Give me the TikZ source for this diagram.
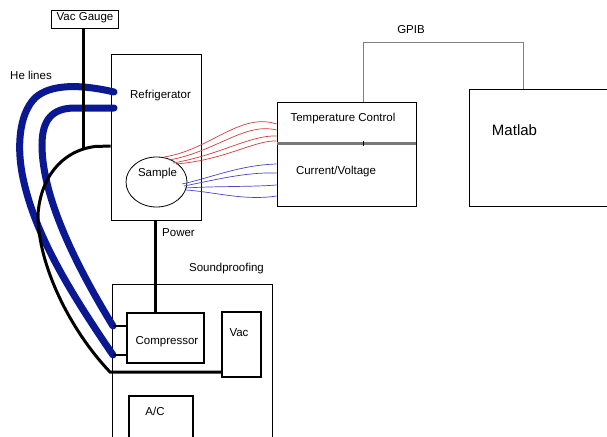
\documentclass[tikz,border=0pt]{standalone}
\usepackage{fontspec}
\setmainfont{Liberation Sans}
\usetikzlibrary{shapes.geometric,calc}
\definecolor{heblue}{RGB}{10,25,145}
\definecolor{wred}{RGB}{210,60,60}
\definecolor{wblue}{RGB}{70,70,200}
\definecolor{divgray}{RGB}{120,120,120}
\tikzset{
  lbl/.style={font=\fontsize{11.5}{13}\selectfont, inner sep=0pt},
  thinbox/.style={draw=black, line width=0.8pt, inner sep=0pt},
  thickbox/.style={draw=black, line width=2pt, inner sep=0pt},
  heline/.style={draw=heblue, line width=7pt, line cap=round},
  blackline/.style={draw=black, line width=3pt},
  stub/.style={draw=black, line width=2pt},
  redwire/.style={draw=wred, line width=0.7pt},
  bluewire/.style={draw=wblue, line width=0.7pt},
  gpib/.style={draw=gray, line width=0.9pt}
}
\begin{document}
\begin{tikzpicture}[x=1pt,y=-1pt]
\useasboundingbox (0,0) rectangle (607,436);
\clip (0,0) rectangle (607,436);
\fill[white] (0,0) rectangle (607,436);

% boxes
\node[thinbox, minimum width=67pt, minimum height=18pt] (vg) at (84.5,19) {};
\node[thinbox, minimum width=90pt, minimum height=166pt] (fr) at (156,137) {};
\node[thinbox, ellipse, minimum width=61pt, minimum height=50pt] (smp) at (156.5,182) {};
\node[thinbox, minimum width=139pt, minimum height=41pt] (tc) at (346.5,122.5) {};
\node[thinbox, minimum width=139pt, minimum height=63pt] (cv) at (346.5,174.5) {};
\node[thinbox, minimum width=151pt, minimum height=117pt] (ml) at (544.5,147.5) {};
\node[thinbox, minimum width=160pt, minimum height=166pt] (sp) at (192,367) {};
\node[thickbox, minimum width=77pt, minimum height=50pt] (comp) at (165.5,338) {};
\node[thickbox, minimum width=39pt, minimum height=65pt] (vac) at (241.5,344.5) {};
\node[thickbox, minimum width=64pt, minimum height=54pt] (ac) at (161,423) {};

% divider between temperature control and current/voltage
\draw[draw=divgray, line width=2.5pt] (tc.south west) -- (tc.south east);
\coordinate (gb) at ($(tc.north west)!0.619!(tc.north east)$);
\draw[draw=black, line width=0.8pt] ($(gb)+(0,39)$) -- ($(gb)+(0,44)$);

% labels
\node[lbl] (lvg) at (85,18) {Vac Gauge};
\node[lbl] (lhe) at (31,75) {He lines};
\node[lbl] (lfr) at (160.5,96) {Refrigerator};
\node[lbl] (lsmp) at (157.5,174) {Sample};
\node[lbl] (ltc) at (343,119) {Temperature Control};
\node[lbl] (lcv) at (336,172) {Current/Voltage};
\node[font=\fontsize{15}{17}\selectfont, inner sep=0pt] (lml) at (514.5,130) {Matlab};
\node[lbl] (lgpib) at (411,30) {GPIB};
\node[lbl] (lpow) at (178.5,233) {Power};
\node[lbl] (lsp) at (226.5,269) {Soundproofing};
\node[lbl] (lcomp) at (167,342) {Compressor};
\node[lbl] (lvac) at (239,333) {Vac};
\node[lbl] (lac) at (155,411) {A/C};

% GPIB connection
\coordinate (gm) at ($(ml.north west)!0.358!(ml.north east)$);
\draw[gpib] (gb) -- ($(gb)+(0,-59)$) -| (gm);

% power
\draw[blackline] (155,220) -- (155,313);

% He lines
\coordinate (he1a) at (114,92);
\coordinate (he1b) at (113,355);
\coordinate (he2a) at (114,108);
\coordinate (he2b) at (113,326);
\draw[heline] (he1a) .. controls (80,84) and (50,84) .. (35,98)
  .. controls (18,115) and (17,150) .. (23,178)
  .. controls (35,235) and (70,292) .. (he1b);
\draw[heline] (he2a) -- (75,108) .. controls (52,108) and (42,120) .. (42,145)
  .. controls (42,200) and (80,272) .. (he2b);
\draw[stub] (he1b) -- (comp.west |- he1b);
\draw[stub] (he2b) -- (comp.west |- he2b);

% vacuum line
\coordinate (vj) at (83,148);
\coordinate (vc) at (110,372);
\draw[blackline] (fr.west |- 0,146) -- (95,146.5) .. controls (60,151) and (40,180) .. (38,215)
  .. controls (38,265) and (70,330) .. (vc) -- (vac.west |- vc);
\draw[blackline] (vg.south -| vj) -- (vj);

% wires to temperature control
\draw[redwire] (164,157) .. controls (210,150) and (240,112) .. (tc.west |- 0,124);
\draw[redwire] (169,160) .. controls (215,152) and (245,122) .. (tc.west |- 0,130);
\draw[redwire] (173,163) .. controls (220,155) and (250,135) .. (tc.west |- 0,136);
\draw[redwire] (176,164) .. controls (225,160) and (255,140) .. (tc.west |- 0,141);

% wires to current/voltage
\draw[bluewire] (182,184) .. controls (210,178) and (240,165) .. (cv.west |- 0,164);
\draw[bluewire] (184,186) .. controls (215,180) and (245,172) .. (cv.west |- 0,173);
\draw[bluewire] (185,188) .. controls (220,186) and (250,187) .. (cv.west |- 0,185);
\draw[bluewire] (186,190) .. controls (215,192) and (245,201) .. (cv.west |- 0,196);
\end{tikzpicture}
\end{document}
